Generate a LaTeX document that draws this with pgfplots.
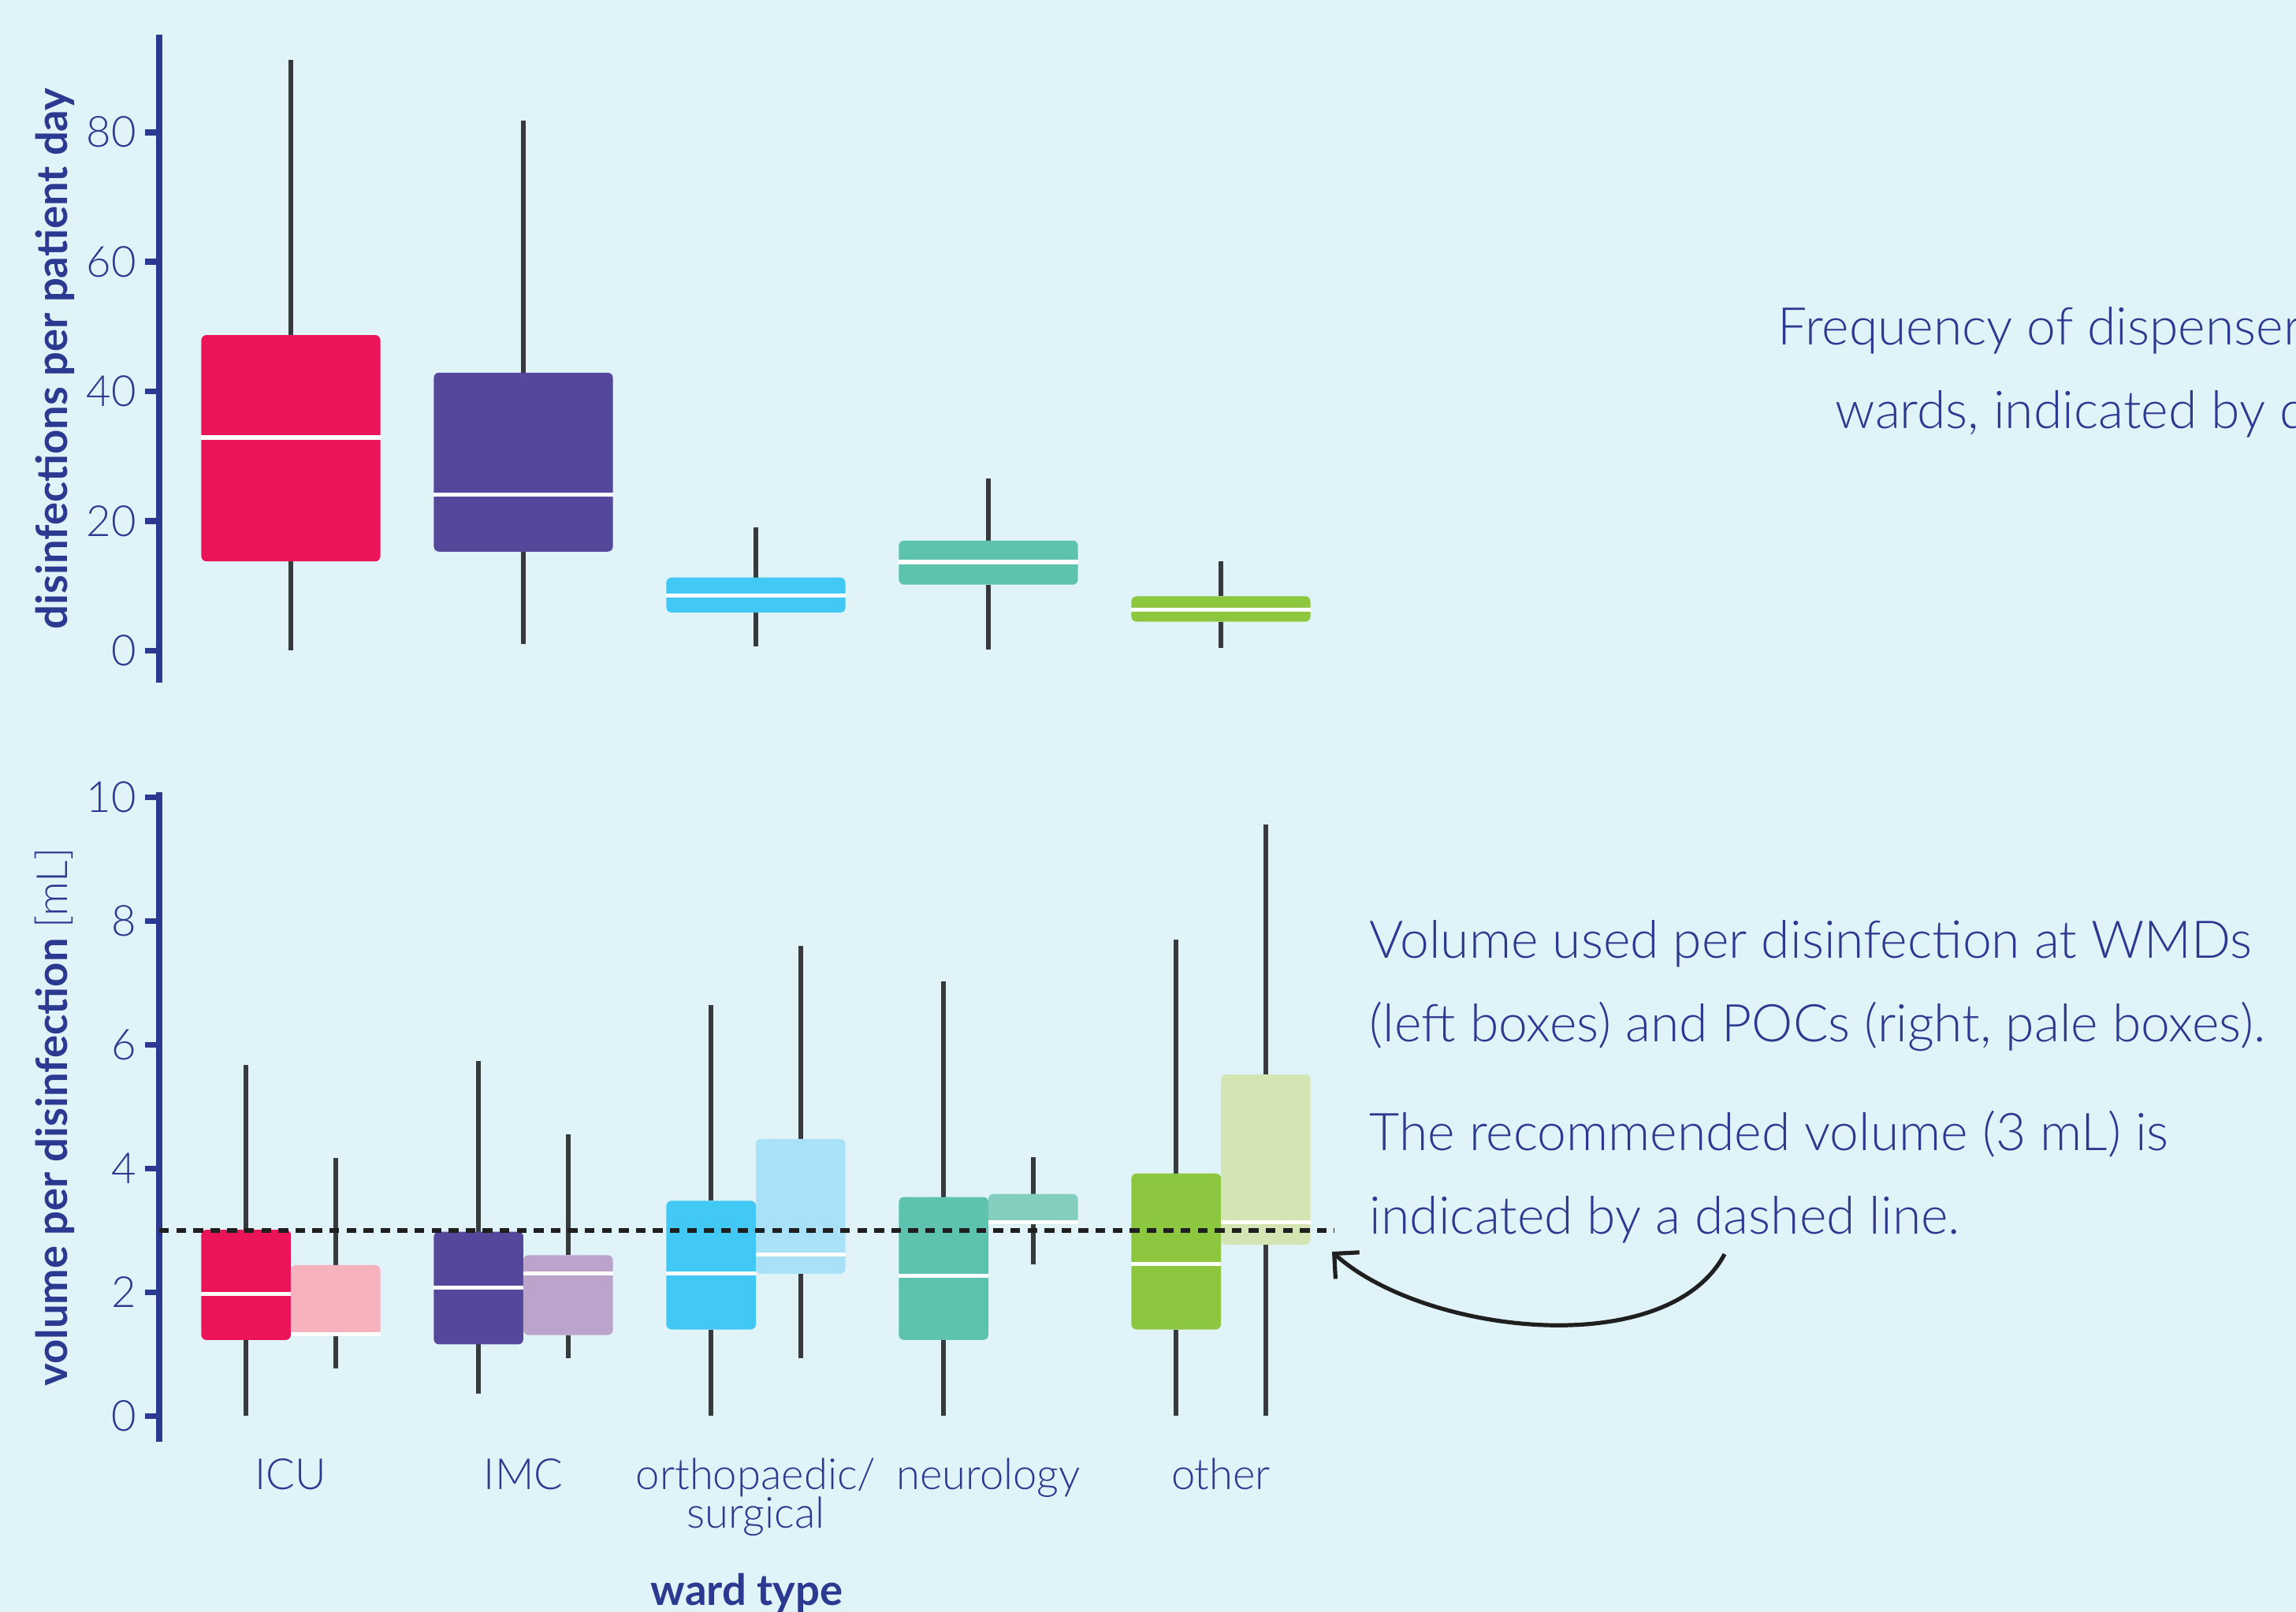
\documentclass[border=0pt]{standalone}
\usepackage{pgfplots}
\pgfplotsset{compat=1.18}
\usepgfplotslibrary{statistics}
\usetikzlibrary{arrows.meta}
\usepackage{fontspec}
\setmainfont{Lato Light}[BoldFont={Lato Bold}]

\definecolor{bg}{HTML}{E0F3F9}
\definecolor{axblue}{HTML}{2B3990}
\definecolor{whisk}{HTML}{363A3D}
\definecolor{icu}{HTML}{EC1458}\definecolor{icuP}{HTML}{F8B2BD}
\definecolor{imc}{HTML}{55479C}\definecolor{imcP}{HTML}{BBA3CC}
\definecolor{ort}{HTML}{41C8F4}\definecolor{ortP}{HTML}{A9E1F9}
\definecolor{neu}{HTML}{5DC3AE}\definecolor{neuP}{HTML}{84CEBF}
\definecolor{oth}{HTML}{8DC63F}\definecolor{othP}{HTML}{D2E5B3}

\newcommand\tickfont{\fontsize{13.6}{12.25}\selectfont\lineskiplimit=-20pt\relax}
\newcommand\labfont{\fontsize{13.6}{16}\selectfont}
\newcommand\annfont{\fontsize{16.5}{26.5}\selectfont}
\newcommand\xs{\rule{0pt}{11pt}}

% colour, position, width, lower whisker, lower quartile, median, upper quartile, upper whisker
\newcommand\bx[8]{\addplot[boxplot prepared={draw direction=y, draw position=#2, box extend=#3,
  lower whisker=#4, lower quartile=#5, median=#6, upper quartile=#7, upper whisker=#8,
  whisker extend=0,
  every box/.style={draw=none, fill=#1, rounded corners=1.6pt},
  every whisker/.style={draw=whisk, line width=1.4pt},
  every median/.style={draw=white, line width=1.3pt}}] coordinates {};}

\pgfplotsset{
  panel/.style={
    scale only axis, width=372.75pt,
    xmin=0.434, xmax=5.488,
    axis y line*=left,
    y axis line style={draw=axblue, line width=2.2pt},
    tick align=outside,
    major tick length=4.5pt,
    ytick style={draw=axblue, line width=1.9pt},
    yticklabel style={font=\tickfont, text=axblue, inner sep=0pt, xshift=-2.6pt},
    /pgf/number format/assume math mode=true,
    ylabel style={font=\labfont, text=axblue, at={(axis description cs:-0.0778,0.5)}, anchor=base},
  }
}

\begin{document}
\begin{tikzpicture}
\useasboundingbox (0,0) rectangle (728.25pt,511.25pt);
\fill[bg] (0,0) rectangle (728.25pt,511.25pt);

% ---- top panel: disinfections per patient day
\begin{axis}[panel, at={(50.5pt,294.8pt)}, anchor=south west, height=205.4pt,
  ymin=-4.89, ymax=95.02, ytick={0,20,40,60,80}, axis x line=none,
  ylabel={\bfseries disinfections per patient day}]
\bx{icu}{1}{0.77}{0.1}{13.8}{32.9}{48.7}{91.2}
\bx{imc}{2}{0.77}{1.1}{15.3}{24.1}{42.9}{81.8}
\bx{ort}{3}{0.77}{0.7}{5.9}{8.5}{11.3}{19.1}
\bx{neu}{4}{0.77}{0.15}{10.2}{13.7}{17.0}{26.6}
\bx{oth}{5}{0.77}{0.4}{4.5}{6.3}{8.4}{13.8}
\end{axis}

% ---- bottom panel: volume per disinfection
\begin{axis}[panel, at={(50.5pt,53.9pt)}, anchor=south west, height=206.1pt,
  ymin=-0.42, ymax=10.083, ytick={0,2,4,6,8,10},
  axis x line*=bottom, x axis line style={draw=none},
  xtick={1,2,3,4,5}, xtick style={draw=none},
  xticklabels={\xs ICU,\xs IMC,{\xs orthopaedic/\\surgical},\xs neurology,\xs other},
  xticklabel style={font=\tickfont, text=axblue, align=center, anchor=north, inner sep=0pt, yshift=0.6pt},
  xlabel={\bfseries ward type},
  xlabel style={font=\labfont, text=axblue, at={(axis description cs:0.5,0)}, anchor=base, yshift=-51.7pt},
  ylabel={\bfseries volume per disinfection \mdseries[mL]}]
% WMDs (left, saturated) and POCs (right, pale)
\bx{icu}{0.8075}{0.385}{0}{1.23}{1.97}{3.01}{5.68}
\bx{icuP}{1.1925}{0.385}{0.77}{1.29}{1.32}{2.44}{4.17}
\bx{imc}{1.8075}{0.385}{0.36}{1.16}{2.08}{2.98}{5.74}
\bx{imcP}{2.1925}{0.385}{0.94}{1.31}{2.30}{2.60}{4.55}
\bx{ort}{2.8075}{0.385}{0}{1.40}{2.30}{3.48}{6.64}
\bx{ortP}{3.1925}{0.385}{0.94}{2.30}{2.61}{4.48}{7.60}
\bx{neu}{3.8075}{0.385}{0}{1.23}{2.27}{3.54}{7.03}
\bx{neuP}{4.1925}{0.385}{2.45}{3.10}{3.13}{3.59}{4.19}
\bx{oth}{4.8075}{0.385}{0}{1.40}{2.46}{3.92}{7.70}
\bx{othP}{5.1925}{0.385}{0}{2.77}{3.13}{5.52}{9.56}
\addplot[draw=black!88, line width=1.35pt, dash pattern=on 3.1pt off 2.3pt] coordinates {(0.434,3) (5.488,3)};
\end{axis}

% ---- annotations
\begin{scope}[every node/.style={anchor=base west, inner sep=0pt, font=\annfont, text=axblue}]
\node at (563.75pt,401.9pt) {Frequency of dispenser use on the different};
\node at (582pt,375.25pt) {wards, indicated by disinfections per patient day.};
\node at (434.25pt,207.25pt) {Volume used per disinfection at WMDs};
\node at (434.25pt,180.75pt) {(left boxes) and POCs (right, pale boxes).};
\node at (434.25pt,146.25pt) {The recommended volume (3 mL) is};
\node at (434.25pt,119.75pt) {indicated by a dashed line.};
\end{scope}
\draw[line width=1.3pt, draw=black!88, -{Straight Barb[angle=90:8pt]}]
  (547pt,113.5pt) to[out=-118,in=-42,looseness=0.8] (422.5pt,114.25pt);
\end{tikzpicture}
\end{document}
